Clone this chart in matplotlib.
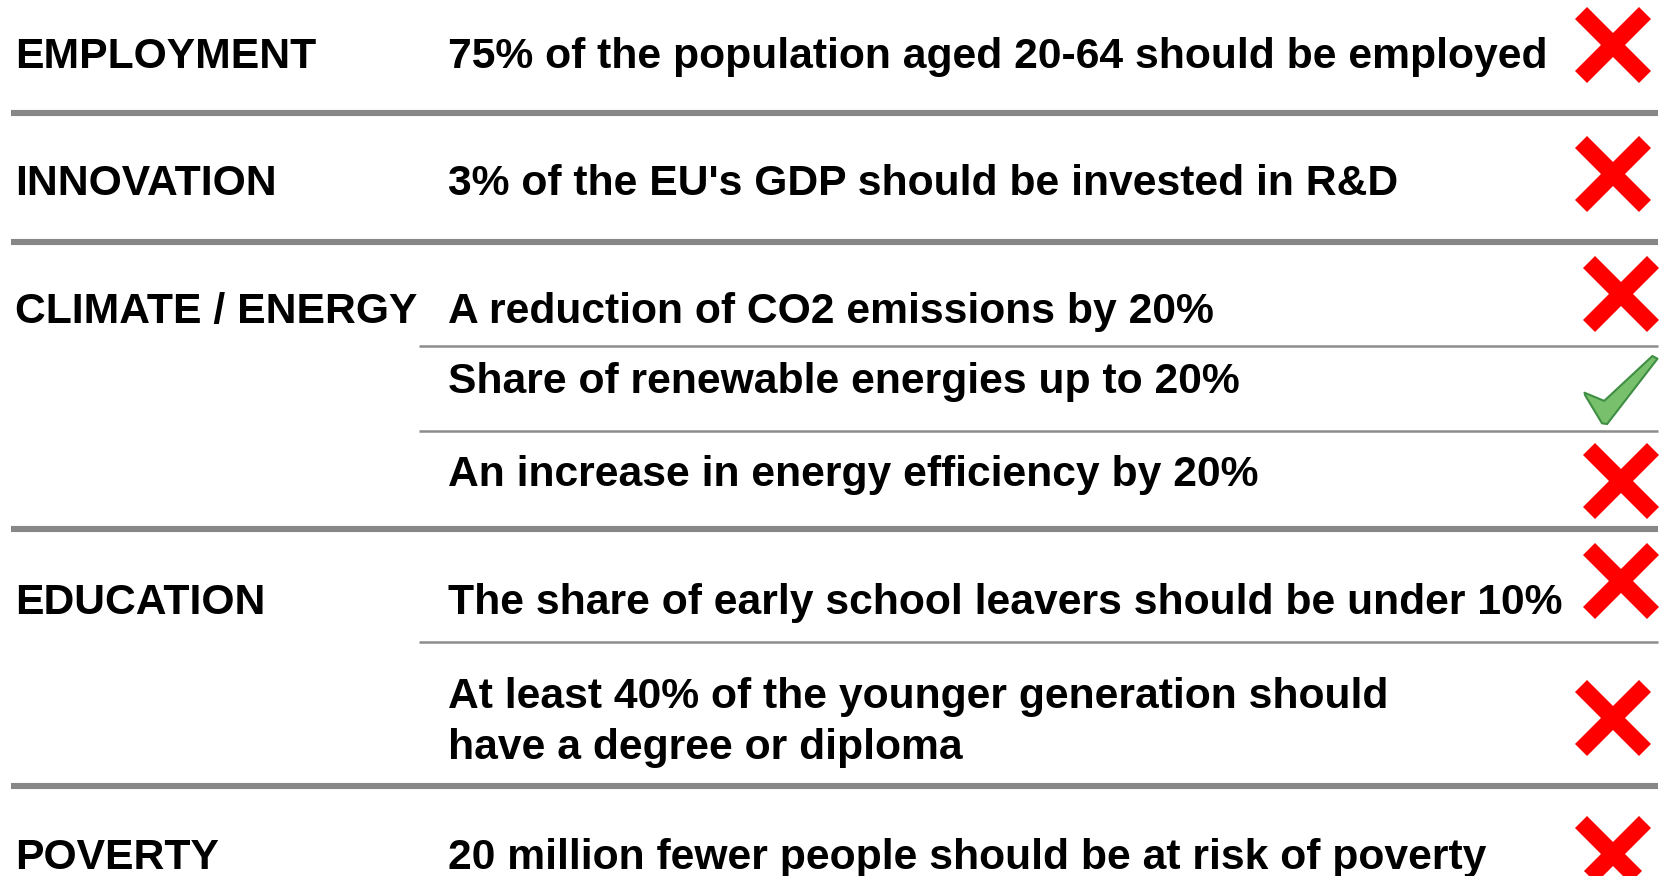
import matplotlib
matplotlib.use('Agg')
import matplotlib.pyplot as plt
from matplotlib.patches import Polygon

plt.rcParams['font.family'] = ['Liberation Sans', 'DejaVu Sans']

# data
categories = ['EMPLOYMENT', 'INNOVATION', 'CLIMATE / ENERGY', 'EDUCATION', 'POVERTY']
goals = [
    '75% of the population aged 20-64 should be employed',
    "3% of the EU's GDP should be invested in R&D",
    'A reduction of CO2 emissions by 20%',
    'Share of renewable energies up to 20%',
    'An increase in energy efficiency by 20%',
    'The share of early school leavers should be under 10%',
    'At least 40% of the younger generation should\nhave a degree or diploma',
    '20 million fewer people should be at risk of poverty',
]
goal_category = [0, 1, 2, 2, 2, 3, 3, 4]
goal_met = [False, False, False, True, False, False, False, False]

# layout (pixels, y downwards)
W, H = 1665, 876
cat_baseline = [68, 195, 323, 614, 869]
goal_baseline = [68, 195, 323, 393, 486, 614, 708, 869]
icon_cy = [45, 174, 294, 390, 481, 581, 718, 854]
icon_cx = [1613, 1613, 1621, 1621, 1621, 1621, 1613, 1613]
thick_y = [113, 242, 529, 786]
thin_y = [346, 431, 642]
FS = 30.7

fig = plt.figure(figsize=(W / 100, H / 100), dpi=100)
ax = fig.add_axes([0, 0, 1, 1])
ax.set_xlim(0, W)
ax.set_ylim(H, 0)
ax.axis('off')

for y in thick_y:
    ax.plot([11, 1658], [y, y], color='#878787', lw=4.4, solid_capstyle='butt')
for y in thin_y:
    ax.plot([419, 1658], [y, y], color='#8c8c8c', lw=1.8, solid_capstyle='butt')

for name, yb in zip(categories, cat_baseline):
    ax.text(15, yb, name, fontsize=FS, fontweight='bold', va='baseline', ha='left')

for i, g in enumerate(goals):
    yb = goal_baseline[i]
    lines = g.split('\n')
    for k, ln in enumerate(lines):
        ax.text(448, yb + k * 51, ln, fontsize=FS, fontweight='bold',
                va='baseline', ha='left')


def draw_cross(cx, cy, size=76, t=17):
    h = size / 2 - t / (2 * 2 ** 0.5)
    lw = t * 0.72
    for sx in (1, -1):
        ax.plot([cx - h, cx + h], [cy - sx * h, cy + sx * h], color='#ff0000',
                lw=lw, solid_capstyle='butt')


check_shape = [(0.0, 0.54), (0.27, 0.66), (0.93, 0.0), (1.0, 0.04),
               (0.31, 1.0), (0.24, 0.99), (0.01, 0.58)]


def draw_check(cx, cy, w=73, h=68):
    pts = [(cx - w / 2 + px * w, cy - h / 2 + py * h) for px, py in check_shape]
    ax.add_patch(Polygon(pts, closed=True, facecolor='#78c06b',
                         edgecolor='#3e8e44', lw=1.5, joinstyle='round'))


for i, met in enumerate(goal_met):
    if met:
        draw_check(icon_cx[i], icon_cy[i])
    else:
        draw_cross(icon_cx[i], icon_cy[i])

fig.savefig('out.png', dpi=100)
